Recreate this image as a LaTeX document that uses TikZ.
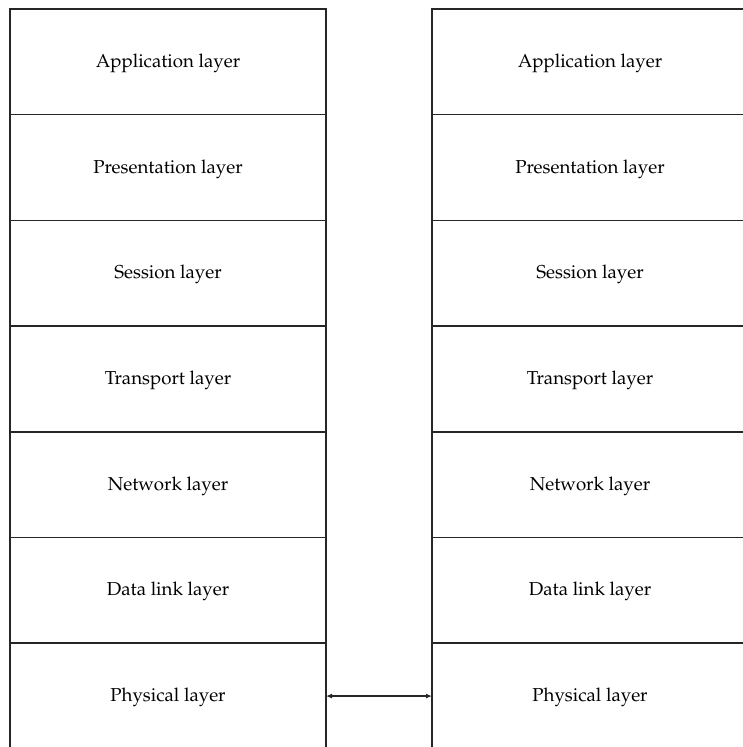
\documentclass[tikz,border=0pt]{standalone}
\usepackage[T1]{fontenc}
\usepackage{mathpazo}
\usetikzlibrary{arrows.meta}
\begin{document}
\begin{tikzpicture}[x=1pt,y=-1pt,
  layerbox/.style={draw=black!85, line width=1.5pt, minimum width=316pt, minimum height=105.7pt,
    inner sep=0pt, outer sep=0pt, anchor=north west,
    text height=15pt, text depth=4.1pt,
    font=\fontsize{18.7}{22}\selectfont},
  link/.style={draw=black!85, line width=1.2pt, {Latex[length=6pt,width=5pt]}-{Latex[length=6pt,width=5pt]}}]
\useasboundingbox (0,0) rectangle (743,747);
\clip (0,0) rectangle (743,747);
% left protocol stack
\node[layerbox] (aL) at (10,9)       {Application layer};
\node[layerbox] (prL) at (10,114.7)  {Presentation layer};
\node[layerbox] (sL) at (10,220.4)   {Session layer};
\node[layerbox] (tL) at (10,326.1)   {Transport layer};
\node[layerbox] (nL) at (10,431.8)   {Network layer};
\node[layerbox] (dL) at (10,537.5)   {Data link layer};
\node[layerbox] (phL) at (10,643.2)  {Physical layer};
% right protocol stack
\node[layerbox] (aR) at (432,9)      {Application layer};
\node[layerbox] (prR) at (432,114.7) {Presentation layer};
\node[layerbox] (sR) at (432,220.4)  {Session layer};
\node[layerbox] (tR) at (432,326.1)  {Transport layer};
\node[layerbox] (nR) at (432,431.8)  {Network layer};
\node[layerbox] (dR) at (432,537.5)  {Data link layer};
\node[layerbox] (phR) at (432,643.2) {Physical layer};
% physical medium between the two stacks
\draw[link] (phL.east) -- (phR.west);
\end{tikzpicture}
\end{document}
